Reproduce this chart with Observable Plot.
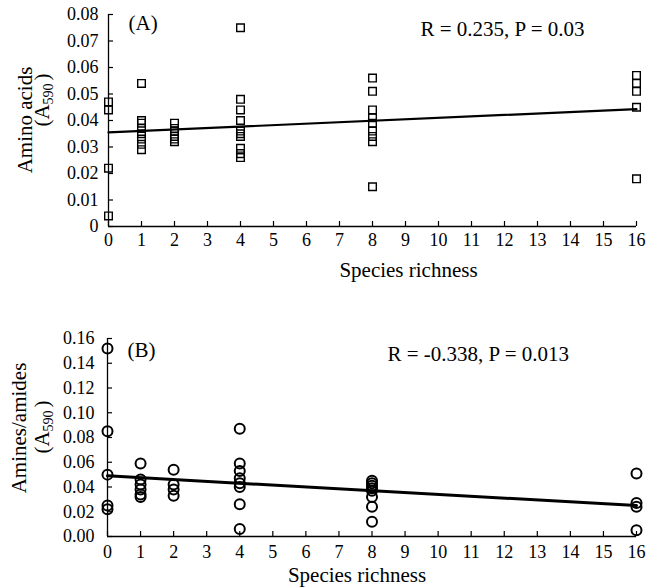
<!DOCTYPE html>
<html><head><meta charset="utf-8">
<script src="https://cdn.jsdelivr.net/npm/d3@7"></script>
<script src="https://cdn.jsdelivr.net/npm/@observablehq/plot@0.6"></script>
<style>
body{margin:0;background:#fff;}
#chart{width:647px;}
#chart svg{display:block;}
#chart svg, #chart svg text{font-family:'Liberation Serif','Tinos','Times New Roman','DejaVu Serif',serif !important;}
</style></head><body><div id="chart"></div>
<script>
// Species richness levels
const richnessLevels = [0, 1, 2, 4, 8, 16];
const xTicks = d3.range(0, 17);

// Panel A: Amino acids (A590), one array per richness level
const aminoAcidsGroups = [
  [0.047, 0.044, 0.022, 0.004],
  [0.054, 0.040, 0.039, 0.037, 0.035, 0.033, 0.031, 0.029],
  [0.039, 0.037, 0.036, 0.034, 0.033, 0.032],
  [0.075, 0.048, 0.044, 0.040, 0.036, 0.035, 0.034, 0.0295, 0.0275, 0.026],
  [0.056, 0.051, 0.044, 0.041, 0.039, 0.036, 0.034, 0.032, 0.015],
  [0.057, 0.054, 0.051, 0.045, 0.018]
];
const aminoAcidsFit = [0.0355, 0.0443];
const aminoAcidsTicks = [0, 0.01, 0.02, 0.03, 0.04, 0.05, 0.06, 0.07, 0.08];
const aminoAcidsStat = "R = 0.235, P = 0.03";

// Panel B: Amines/amides (A590)
const aminesGroups = [
  [0.152, 0.085, 0.050, 0.025, 0.022],
  [0.059, 0.046, 0.042, 0.038, 0.034, 0.032],
  [0.054, 0.042, 0.038, 0.033],
  [0.087, 0.059, 0.053, 0.047, 0.043, 0.040, 0.026, 0.006],
  [0.045, 0.043, 0.041, 0.039, 0.037, 0.032, 0.024, 0.012],
  [0.051, 0.027, 0.024, 0.005]
];
const aminesFit = [0.049, 0.025];
const aminesTicks = [0, 0.02, 0.04, 0.06, 0.08, 0.10, 0.12, 0.14, 0.16];
const aminesStat = "R = -0.338, P = 0.013";

const fitX = [0, 16];
const xLabel = "Species richness";

function points(groups) {
  return groups.flatMap((vals, i) => vals.map(v => ({x: richnessLevels[i], y: v})));
}
function fit(ends) {
  return ends.map((v, i) => ({x: fitX[i], y: v}));
}

const FONT = "'Liberation Serif', 'Tinos', 'Times New Roman', 'DejaVu Serif', serif";

function panel(o) {
  const svg = Plot.plot({
    width: 647,
    height: o.height,
    marginLeft: o.marginLeft,
    marginRight: 11,
    marginTop: o.marginTop,
    marginBottom: o.marginBottom,
    style: {fontFamily: FONT, fontSize: "18px", color: "#000", background: "#fff"},
    x: {domain: [0, 16]},
    y: {domain: [0, o.yMax]},
    marks: [
      Plot.axisY({ticks: o.yTicks, tickFormat: o.yFormat, tickSize: -5, tickPadding: o.yPad, label: null, strokeWidth: 1.2}),
      Plot.axisX({ticks: xTicks, tickFormat: d3.format("d"), tickSize: -5, tickPadding: o.xPad, label: null, strokeWidth: 1.2}),
      Plot.ruleX([0], {stroke: "#000", strokeWidth: 1.3}),
      Plot.ruleY([0], {stroke: "#000", strokeWidth: 1.3}),
      Plot.dot(points(o.groups), {x: "x", y: "y", symbol: o.symbol, r: o.r, stroke: "#000", strokeWidth: o.dotStroke, fill: "none"}),
      Plot.line(fit(o.fitEnds), {x: "x", y: "y", stroke: "#000", strokeWidth: o.lineWidth}),
      Plot.text([o.tag], {frameAnchor: "top-left", dx: 20, dy: o.tagDy, textAnchor: "start", lineAnchor: "middle", fontSize: 21, fill: "#000"}),
      Plot.text([o.stat], {frameAnchor: "top-left", dx: o.statDx, dy: o.statDy, textAnchor: "start", lineAnchor: "middle", fontSize: 21, fill: "#000"}),
      Plot.text([xLabel], {frameAnchor: "bottom", dx: o.xLabelDx, dy: o.xLabelDy, lineAnchor: "middle", fontSize: 21, fill: "#000"})
    ]
  });
  // Rotated two-line y-axis title with subscript
  const s = d3.select(svg);
  s.append("text")
    .attr("transform", `translate(${o.yLab1X},${o.yLab1Y}) rotate(-90)`)
    .attr("text-anchor", "middle").attr("font-size", 21).attr("fill", "#000")
    .text(o.yTitle);
  const t2 = s.append("text")
    .attr("transform", `translate(${o.yLab2X},${o.yLab2Y}) rotate(-90)`)
    .attr("text-anchor", "middle").attr("font-size", 21).attr("fill", "#000");
  t2.append("tspan").text("(A");
  t2.append("tspan").attr("font-size", 14).attr("dy", 4).text("590");
  t2.append("tspan").attr("dy", -4).attr("dx", 3).text(")");
  return svg;
}

const chart = document.getElementById("chart");
chart.append(panel({
  height: 290, marginLeft: 108, marginTop: 14, marginBottom: 64,
  yMax: 0.08, yTicks: aminoAcidsTicks, yFormat: d => d === 0 ? "0" : d3.format(".2f")(d),
  yPad: 15, xPad: 12,
  groups: aminoAcidsGroups, symbol: "square", r: 4.3, dotStroke: 1.4,
  fitEnds: aminoAcidsFit, lineWidth: 2.2,
  tag: "(A)", tagDy: 9, stat: aminoAcidsStat, statDx: 312, statDy: 15,
  xLabelDx: 36, xLabelDy: 44,
  yTitle: "Amino acids", yLab1X: 32, yLab1Y: 120, yLab2X: 49, yLab2Y: 100
}));
chart.append(panel({
  height: 297, marginLeft: 107, marginTop: 48, marginBottom: 51,
  yMax: 0.16, yTicks: aminesTicks, yFormat: d3.format(".2f"),
  yPad: 18, xPad: 14,
  groups: aminesGroups, symbol: "circle", r: 5, dotStroke: 2,
  fitEnds: aminesFit, lineWidth: 3,
  tag: "(B)", tagDy: 12, stat: aminesStat, statDx: 280, statDy: 16,
  xLabelDx: -15, xLabelDy: 39,
  yTitle: "Amines/amides", yLab1X: 26, yLab1Y: 138, yLab2X: 49, yLab2Y: 137
}));
</script>
</body></html>
